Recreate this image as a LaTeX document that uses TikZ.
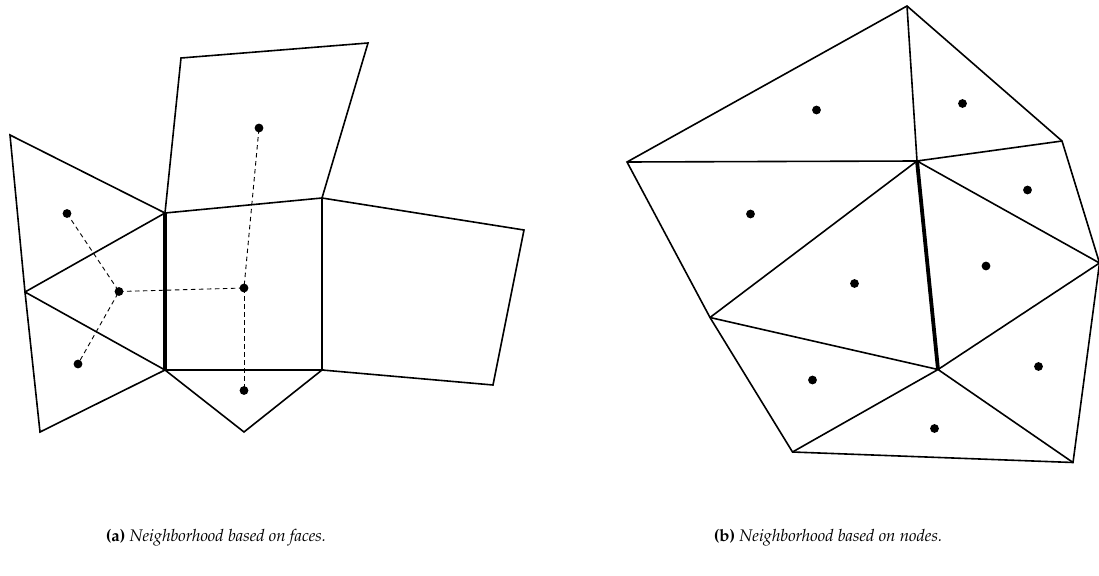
\documentclass[tikz,border=0pt]{standalone}
\usepackage[T1]{fontenc}
\usepackage{mathpazo}
\begin{document}
\begin{tikzpicture}[x=1pt,y=-1pt,
  edge/.style={line width=1.6pt,line join=miter},
  boldedge/.style={line width=3.8pt},
  link/.style={line width=0.9pt,dash pattern=on 4.5pt off 3.5pt},
  dot/.style={fill=black},
  captext/.style={font=\fontsize{16.8}{20}\selectfont,anchor=base}]
\useasboundingbox (0,0) rectangle (1099,575);
% ---------- (a) faces ----------
\coordinate (P1) at (10,135);
\coordinate (P2) at (165,213);
\coordinate (P3) at (25,292);
\coordinate (P4) at (165,370);
\coordinate (P5) at (40,432);
\coordinate (P6) at (181,58);
\coordinate (P7) at (368,43);
\coordinate (P8) at (322,198);
\coordinate (P9) at (322,370);
\coordinate (P10) at (524,230);
\coordinate (P11) at (493,385);
\coordinate (P12) at (244,432);
\draw[edge] (P1) -- (P2) -- (P3) -- cycle;
\draw[edge] (P3) -- (P4) -- (P5) -- cycle;
\draw[edge] (P2) -- (P6) -- (P7) -- (P8) -- cycle;
\draw[edge] (P8) -- (P10) -- (P11) -- (P9) -- cycle;
\draw[edge] (P4) -- (P9) -- (P12) -- cycle;
\draw[edge] (P8) -- (P9);
\draw[boldedge] (P2) -- (P4);
\coordinate (d1) at (67,213.5);
\coordinate (d2) at (119,291.5);
\coordinate (d3) at (78,364);
\coordinate (d4) at (244,288);
\coordinate (d5) at (259,128);
\coordinate (d6) at (244,390.5);
\draw[link] (d1) -- (d2) -- (d3);
\draw[link] (d2) -- (d4) -- (d5);
\draw[link] (d4) -- (d6);
\foreach \d in {d1,d2,d3,d4,d5,d6} \fill[dot] (\d) circle (4.4pt);
% ---------- (b) nodes ----------
\coordinate (T) at (907,6);
\coordinate (L) at (627,162);
\coordinate (C) at (917,161);
\coordinate (R1) at (1062,141);
\coordinate (R2) at (1099.5,263);
\coordinate (ML) at (710,317.5);
\coordinate (B) at (938,369.5);
\coordinate (BL) at (792.5,452);
\coordinate (BR) at (1073,462.5);
\draw[edge] (T) -- (L) -- (ML) -- (BL) -- (BR) -- (R2) -- (R1) -- cycle;
\draw[edge] (T) -- (C) (L) -- (C) -- (R1) (C) -- (ML) (C) -- (R2);
\draw[edge] (ML) -- (B) -- (R2) (B) -- (BL) (B) -- (BR);
\draw[boldedge] (C) -- (B);
\foreach \p in {(816.5,110),(962.5,103.5),(750.5,214),(1027.5,190),(854.5,283.5),(986,266),(812.5,380),(1038.5,366.5),(934.5,428.5)}
  \fill[dot] \p circle (4.4pt);
% ---------- captions ----------
\node[captext] (capa) at (216,541) {\textbf{(a)} \textit{Neighborhood based on faces.}};
\node[captext] (capb) at (828,541) {\textbf{(b)} \textit{Neighborhood based on nodes.}};
\end{tikzpicture}
\end{document}
